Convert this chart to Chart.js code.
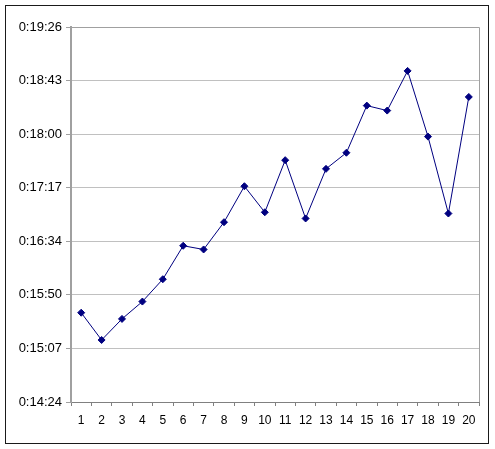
<!DOCTYPE html>
<html>
<head>
<meta charset="utf-8">
<script src="https://cdn.jsdelivr.net/npm/chart.js@4.4.1/dist/chart.umd.min.js"></script>
<style>
html,body{margin:0;padding:0;background:#fff;}
#wrap{width:495px;height:449px;position:relative;}
</style>
</head>
<body>
<div id="wrap"><canvas id="c" width="495" height="449"></canvas></div>
<script>
// Categories (x axis)
const categories = ['1','2','3','4','5','6','7','8','9','10','11','12','13','14','15','16','17','18','19','20'];
// Series values, in seconds (e.g. 936 = 0:15:36)
const timeSeconds = [936, 914, 931, 945, 963, 990, 987, 1009, 1038, 1017, 1059, 1012, 1052, 1065, 1103, 1099, 1131, 1078, 1016, 1110];
// Y tick values in seconds (labels 0:14:24 ... 0:19:26)
const yTickSeconds = [864, 907.2, 950.4, 993.6, 1036.8, 1080, 1123.2, 1166.4];

function fmt(sec){
  const s = Math.round(sec);
  const h = Math.floor(s/3600);
  const m = Math.floor((s%3600)/60);
  const ss = s%60;
  return h + ':' + String(m).padStart(2,'0') + ':' + String(ss).padStart(2,'0');
}

const framePlugin = {
  id:'frame',
  beforeDraw(chart){
    const ctx = chart.ctx;
    ctx.save();
    ctx.fillStyle = '#fff';
    ctx.fillRect(0,0,chart.width,chart.height);
    ctx.restore();
  },
  afterDraw(chart){
    const ctx = chart.ctx, a = chart.chartArea;
    ctx.save();
    ctx.strokeStyle = '#a0a0a0';
    ctx.lineWidth = 1;
    ctx.beginPath();
    ctx.moveTo(a.left, a.top + 0.5);
    ctx.lineTo(a.right + 0.5, a.top + 0.5);
    ctx.lineTo(a.right + 0.5, a.bottom);
    ctx.stroke();
    ctx.strokeStyle = '#1a1a1a';
    ctx.lineWidth = 1;
    ctx.strokeRect(5.5, 5.5, 483, 438);
    ctx.restore();
  }
};

new Chart(document.getElementById('c'), {
  type:'line',
  data:{
    labels: categories,
    datasets:[{
      data: timeSeconds,
      borderColor:'#000080',
      backgroundColor:'#000080',
      borderWidth:1,
      pointStyle:'rectRot',
      pointRadius:3.5,
      pointHoverRadius:3.5,
      pointBorderWidth:1,
      tension:0,
      fill:false
    }]
  },
  options:{
    responsive:false,
    animation:false,
    devicePixelRatio:1,
    layout:{padding:{left:0,right:16,top:27,bottom:17}},
    plugins:{legend:{display:false},tooltip:{enabled:false}},
    scales:{
      x:{
        offset:true,
        afterFit(s){ s.height = 30; },
        grid:{offset:true, drawOnChartArea:false, tickLength:4, color:'#808080', tickColor:'#808080'},
        border:{color:'#808080', width:1},
        ticks:{color:'#000', font:{family:'Liberation Sans, Arial', size:12}, padding:7, maxRotation:0, autoSkip:false}
      },
      y:{
        min:864, max:1166.4,
        afterFit(s){ s.width = 71; },
        afterBuildTicks(s){ s.ticks = yTickSeconds.map(v=>({value:v})); },
        grid:{color:'#c0c0c0', tickLength:5, tickColor:'#a0a0a0'},
        border:{color:'#a0a0a0', width:2},
        ticks:{color:'#000', font:{family:'Liberation Sans, Arial', size:13}, padding:4, callback:(v)=>fmt(v)}
      }
    }
  },
  plugins:[framePlugin]
});
</script>
</body>
</html>
